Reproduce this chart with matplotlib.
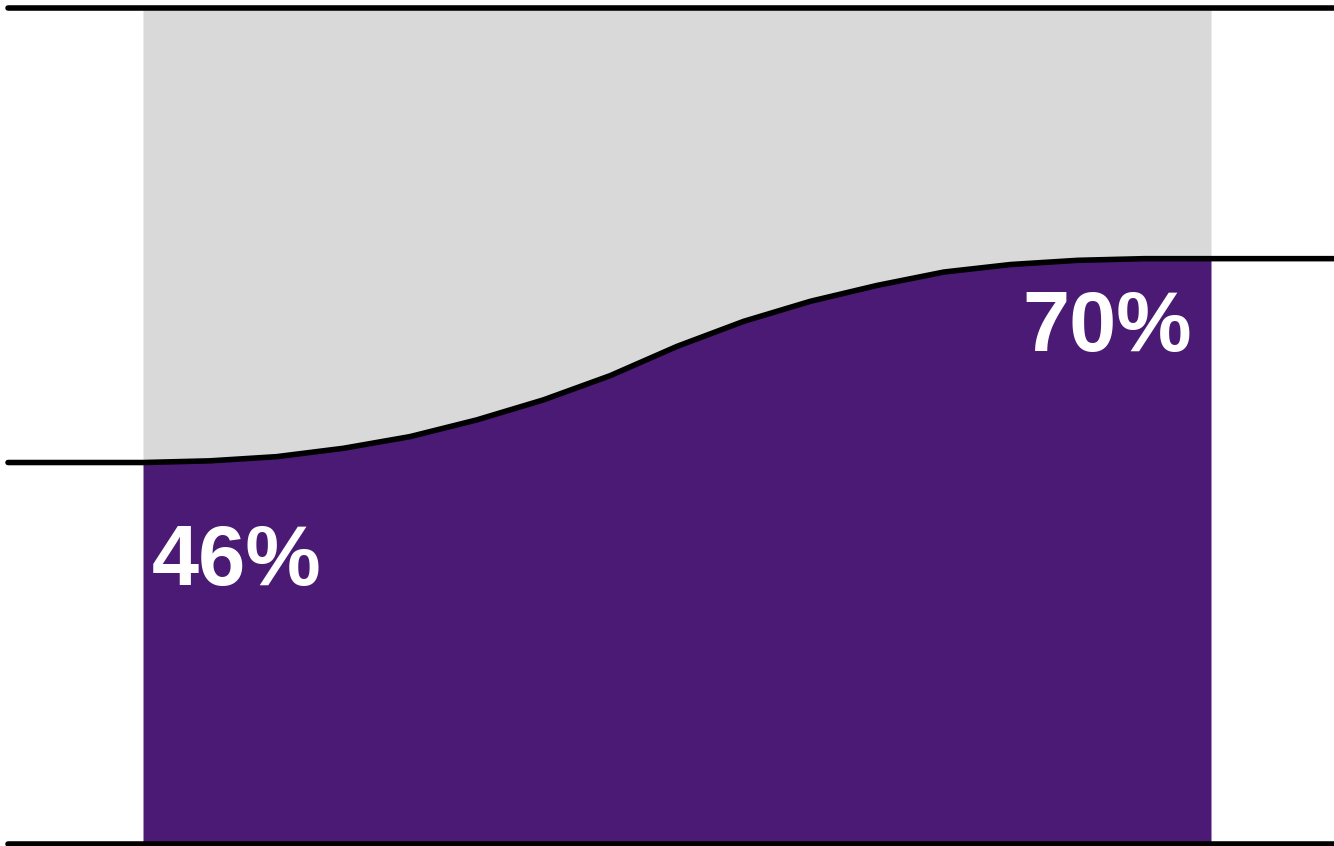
import matplotlib
matplotlib.use("Agg")
import matplotlib.pyplot as plt
import numpy as np

# Data
steps = list(range(17))
share = [45.6, 45.8, 46.3, 47.3, 48.7, 50.7, 53.1, 56.0, 59.5, 62.5, 64.9, 66.8, 68.4, 69.3, 69.8, 70.0, 70.0]
start_label = "46%"
end_label = "70%"

purple = "#4B1A74"
grey = "#D9D9D9"

fig = plt.figure(figsize=(13.34, 8.46), dpi=100)
ax = fig.add_axes([0, 0, 1, 1])
ax.set_axis_off()

px = 66.75  # pixels per step
x0 = 143.0
ax.set_xlim(-x0 / px, (1334 - x0) / px)
ypp = 835.5 / 100.0
ax.set_ylim(-2.5 / ypp, 100 + 8 / ypp)

x = np.array(steps, dtype=float)
y = np.array(share)

ax.fill_between(x, 0, y, color=purple, lw=0, zorder=1)
ax.fill_between(x, y, 100, color=grey, lw=0, zorder=1)

lw = 4.0
left_x = (8 - x0) / px
right_x = (1334 - x0) / px
ax.plot([left_x, right_x + 1], [0, 0], color="black", lw=lw, solid_capstyle="round", zorder=3)
ax.plot([left_x, right_x + 1], [100, 100], color="black", lw=lw, solid_capstyle="round", zorder=3)
cx = np.concatenate([[left_x], x, [right_x + 1]])
cy = np.concatenate([[y[0]], y, [y[-1]]])
ax.plot(cx, cy, color="black", lw=lw, solid_capstyle="round", solid_joinstyle="round", zorder=3)

font = dict(family=["Liberation Sans", "DejaVu Sans"], weight="bold")
t1 = ax.text(x[0] + 9 / px, (843.5 - 585) / ypp, start_label, color="white", fontsize=60,
             ha="left", va="baseline", zorder=4, **font)
t2 = ax.text(x[-1] - 19 / px, (843.5 - 351) / ypp, end_label, color="white", fontsize=60,
             ha="right", va="baseline", zorder=4, **font)

# fit text size to the target width
fig.canvas.draw()
r = fig.canvas.get_renderer()
w = t1.get_window_extent(r).width
fs = 60 * 170.0 / w
t1.set_fontsize(fs)
t2.set_fontsize(fs)

fig.savefig("out.png", dpi=100)
